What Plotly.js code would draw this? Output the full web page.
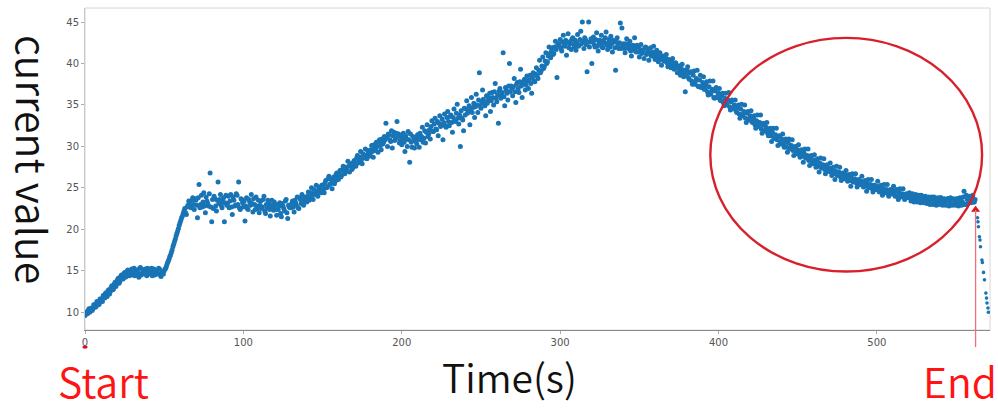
<!DOCTYPE html>
<html>
<head>
<meta charset="utf-8">
<script src="https://cdn.plot.ly/plotly-3.0.1.min.js"></script>
<style>
  html, body { margin: 0; padding: 0; background: #fff; }
  #chart { width: 998px; height: 412px; }
</style>
</head>
<body>
<div id="chart"></div>
<script>
// ---- data ----
// readings taken every 0.5 s: one list on whole seconds, one on half seconds
const SAMPLE_STEP = 1;
const wholeSecondStart = 0;
const halfSecondStart = 0.5;
const currentValue = [
  9.6, 9.9, 10.2, 10.0, 10.5, 10.4, 10.9, 10.7, 11.2, 11.0,
  11.6, 11.3, 12.0, 12.3, 11.9, 12.7, 12.5, 13.2, 12.8, 13.6,
  13.4, 14.1, 13.7, 14.5, 14.0, 14.8, 14.3, 15.1, 14.4, 14.9,
  14.5, 15.3, 14.6, 15.0, 14.2, 15.4, 14.7, 14.9, 15.2, 14.4,
  15.1, 14.6, 15.3, 14.8, 14.5, 15.0, 14.7, 15.2, 14.3, 14.9,
  15.0, 15.3, 15.9, 16.4, 16.9, 17.5, 18.2, 18.8, 19.5, 20.1,
  20.8, 21.4, 21.9, 22.5, 21.8, 22.9, 23.3, 22.6, 23.8, 22.4,
  23.5, 21.4, 25.4, 23.0, 22.7, 24.4, 22.0, 23.4, 22.8, 26.8,
  20.9, 22.5, 23.7, 22.2, 25.7, 23.6, 22.9, 23.3, 20.9, 24.1,
  23.1, 22.6, 24.2, 21.8, 23.5, 22.9, 24.1, 25.7, 22.4, 23.6,
  22.7, 21.0, 23.8, 22.4, 23.3, 24.2, 22.1, 23.0, 23.9, 22.5,
  22.0, 23.4, 22.7, 24.0, 21.9, 22.6, 23.1, 21.6, 23.5, 22.3,
  22.9, 21.7, 22.4, 23.2, 21.5, 22.8, 22.2, 23.6, 21.3, 22.7,
  22.6, 23.4, 22.1, 23.2, 23.9, 22.5, 23.6, 24.2, 22.9, 23.8,
  23.3, 24.5, 23.7, 25.0, 23.6, 24.3, 25.3, 24.0, 24.9, 24.4,
  25.3, 24.4, 25.9, 25.1, 26.4, 25.5, 24.9, 26.3, 25.8, 26.8,
  26.0, 27.1, 26.5, 27.6, 26.7, 27.3, 28.2, 26.9, 27.8, 27.4,
  28.3, 27.6, 28.9, 28.2, 29.4, 27.9, 29.0, 29.7, 28.5, 29.3,
  29.0, 30.1, 28.7, 29.8, 30.5, 29.3, 30.8, 29.6, 30.3, 31.2,
  32.8, 30.0, 31.4, 30.6, 29.8, 31.7, 30.9, 33.0, 31.5, 30.7,
  30.2, 31.6, 29.4, 30.9, 31.8, 28.1, 30.5, 31.2, 29.8, 30.6,
  31.4, 29.9, 30.8, 32.3, 31.0, 30.4, 32.6, 31.5, 30.9, 33.1,
  31.8, 33.4, 32.0, 31.3, 33.7, 32.6, 30.8, 33.9, 32.3, 34.2,
  32.5, 33.8, 31.7, 34.5, 33.0, 35.1, 32.7, 30.0, 33.4, 31.9,
  33.8, 35.5, 34.3, 32.6, 35.9, 34.7, 33.5, 36.3, 34.1, 38.9,
  34.6, 36.8, 35.3, 33.7, 35.2, 35.9, 34.2, 36.5, 35.0, 37.6,
  35.4, 32.8, 37.0, 36.2, 41.3, 34.9, 36.8, 35.6, 40.0, 37.3,
  36.1, 38.2, 35.3, 37.7, 36.5, 39.3, 35.9, 37.9, 36.8, 38.5,
  37.0, 38.6, 36.4, 38.9, 37.8, 39.5, 38.2, 40.4, 39.1, 40.8,
  39.6, 41.3, 40.2, 42.0, 40.7, 41.9, 41.2, 42.7, 38.3, 42.4,
  42.9, 41.5, 43.4, 42.1, 41.0, 43.6, 42.4, 41.7, 43.1, 42.0,
  41.6, 43.5, 42.2, 43.9, 45.0, 41.8, 42.9, 39.0, 45.0, 42.6,
  40.0, 43.2, 42.0, 43.7, 41.5, 42.8, 43.4, 41.9, 42.5, 43.8,
  41.7, 42.9, 43.3, 41.4, 42.6, 39.2, 43.1, 41.8, 44.9, 44.3,
  42.4, 41.3, 43.0, 41.8, 42.7, 40.9, 42.2, 43.1, 41.4, 42.0,
  40.8, 42.3, 41.6, 40.6, 42.0, 41.2, 40.4, 41.9, 41.0, 42.1,
  40.5, 41.6, 40.2, 41.3, 39.8, 40.9, 40.3, 41.1, 39.6, 40.4,
  39.5, 40.6, 39.3, 40.1, 38.9, 39.7, 38.6, 39.9, 38.4, 36.6,
  39.2, 38.3, 38.9, 37.9, 38.6, 37.5, 38.2, 37.3, 38.0, 37.1,
  37.7, 36.9, 37.4, 36.6, 37.2, 36.3, 36.9, 35.9, 36.7, 36.0,
  36.4, 35.6, 36.1, 35.3, 35.8, 35.0, 35.6, 34.8, 35.4, 34.6,
  35.0, 34.3, 34.7, 33.9, 34.5, 33.7, 34.2, 33.4, 34.0, 33.3,
  33.7, 33.0, 33.4, 32.6, 33.1, 32.4, 32.9, 32.1, 32.6, 31.9,
  32.3, 31.6, 31.9, 31.3, 31.7, 31.0, 31.4, 30.8, 31.2, 30.5,
  30.9, 30.2, 30.6, 29.9, 30.4, 29.7, 30.1, 29.5, 29.9, 29.3,
  29.6, 29.0, 29.4, 28.8, 29.2, 28.6, 28.9, 28.3, 28.7, 28.1,
  28.4, 27.9, 28.2, 27.6, 28.0, 27.4, 27.8, 27.2, 27.6, 27.0,
  27.4, 26.9, 27.2, 26.7, 27.0, 26.5, 26.9, 26.3, 26.7, 26.2,
  26.6, 26.1, 26.4, 25.9, 26.2, 25.7, 26.1, 25.6, 25.9, 25.4,
  25.8, 25.3, 25.7, 25.2, 25.5, 25.0, 25.4, 24.9, 25.3, 24.8,
  25.2, 24.7, 25.0, 24.5, 24.9, 24.4, 24.8, 24.3, 24.7, 24.4,
  24.7, 24.2, 24.6, 24.0, 24.4, 23.9, 24.3, 23.9, 24.2, 23.8,
  24.3, 23.8, 24.1, 23.6, 24.0, 23.5, 23.9, 23.6, 24.1, 23.5,
  23.9, 23.4, 23.8, 23.3, 23.7, 23.5, 23.9, 23.2, 23.6, 23.4,
  23.8, 23.3, 23.6, 23.1, 23.5, 23.7, 23.2, 23.6, 23.0, 23.5,
  23.2, 23.7, 23.1, 23.5, 23.3, 24.6, 23.0, 23.6, 23.9, 23.4,
  24.0, 23.3, 23.6
];
const currentValueHalf = [
  10.0, 9.8, 10.4, 10.3, 10.2, 10.9, 10.6, 11.3, 10.9, 11.6,
  11.4, 12.0, 11.7, 12.1, 12.6, 12.2, 13.0, 12.7, 13.4, 13.1,
  13.9, 13.5, 14.3, 14.1, 14.6, 14.2, 14.9, 14.6, 14.8, 15.2,
  14.8, 14.4, 15.1, 14.7, 15.3, 14.5, 15.1, 14.6, 14.8, 15.3,
  14.7, 15.0, 14.4, 15.2, 14.9, 14.6, 15.3, 14.5, 14.8, 14.6,
  15.2, 15.6, 16.1, 16.7, 17.2, 17.9, 18.5, 19.2, 19.8, 20.5,
  21.1, 21.6, 22.2, 22.0, 22.7, 23.4, 22.8, 23.5, 23.0, 23.7,
  22.9, 23.8, 22.6, 24.1, 23.3, 22.8, 23.9, 23.1, 24.3, 22.7,
  23.6, 24.0, 22.8, 23.5, 23.1, 24.2, 22.6, 23.8, 23.2, 22.9,
  24.0, 23.4, 22.7, 23.9, 22.8, 24.3, 23.0, 22.6, 23.7, 23.2,
  23.4, 22.8, 22.5, 23.6, 22.9, 23.1, 23.7, 22.4, 22.8, 23.5,
  22.9, 22.5, 23.6, 22.2, 23.0, 23.5, 22.4, 22.9, 22.6, 23.3,
  22.4, 23.0, 22.8, 21.9, 23.1, 22.5, 23.4, 22.0, 22.9, 22.6,
  23.1, 22.7, 23.5, 22.9, 22.6, 23.8, 23.1, 23.4, 23.9, 23.5,
  24.0, 23.5, 24.4, 24.1, 24.8, 24.2, 24.6, 25.1, 24.5, 25.3,
  24.8, 25.6, 25.0, 26.1, 25.4, 26.0, 25.9, 25.5, 26.6, 26.2,
  26.7, 26.3, 27.2, 26.9, 27.5, 27.0, 27.6, 27.9, 27.2, 28.1,
  27.8, 28.6, 28.0, 28.7, 28.4, 29.1, 28.6, 28.9, 29.5, 28.8,
  29.6, 29.4, 30.2, 29.5, 30.0, 30.6, 30.1, 30.9, 30.5, 30.8,
  31.1, 31.5, 30.8, 31.9, 31.3, 30.7, 31.6, 31.2, 30.4, 31.3,
  31.0, 30.5, 31.3, 30.0, 30.8, 31.5, 29.9, 30.7, 31.1, 30.3,
  30.9, 31.6, 31.2, 30.5, 31.9, 31.7, 31.2, 32.0, 32.4, 31.8,
  32.7, 32.1, 33.0, 32.8, 32.4, 33.3, 32.9, 32.5, 33.5, 33.0,
  33.6, 32.9, 33.5, 33.1, 34.0, 33.4, 33.8, 34.3, 33.2, 34.6,
  34.5, 34.0, 34.9, 34.4, 34.1, 35.2, 34.8, 35.0, 35.6, 34.9,
  35.3, 35.7, 34.9, 36.1, 35.6, 36.4, 35.5, 35.9, 36.6, 35.8,
  36.2, 36.7, 35.8, 36.5, 36.0, 37.1, 36.4, 37.3, 36.6, 37.0,
  37.2, 36.6, 37.5, 37.0, 37.8, 37.3, 37.6, 38.1, 37.4, 37.9,
  38.0, 37.6, 38.3, 37.9, 38.7, 38.5, 39.2, 38.9, 39.7, 39.4,
  40.3, 40.0, 40.9, 41.2, 41.5, 41.1, 42.0, 41.7, 42.3, 42.1,
  41.8, 42.6, 42.2, 42.8, 42.5, 41.9, 42.7, 43.0, 42.3, 42.8,
  42.5, 42.1, 42.9, 42.4, 42.7, 43.1, 42.3, 42.6, 42.0, 43.0,
  42.7, 42.3, 42.9, 42.1, 42.6, 42.4, 42.0, 42.8, 43.1, 42.2,
  42.5, 42.0, 42.4, 42.8, 41.9, 42.6, 42.2, 42.5, 41.8, 42.1,
  41.8, 42.4, 41.9, 42.3, 41.5, 42.0, 41.6, 41.9, 42.2, 41.4,
  41.7, 41.2, 41.5, 41.9, 41.1, 41.6, 41.3, 40.9, 41.4, 40.8,
  41.2, 40.7, 41.0, 40.5, 40.8, 40.3, 40.7, 40.1, 40.5, 39.9,
  40.2, 39.8, 39.9, 39.5, 39.7, 39.1, 39.4, 38.9, 39.2, 38.7,
  39.6, 38.1, 39.0, 37.5, 39.1, 37.9, 39.2, 37.2, 38.6, 37.3,
  38.4, 36.9, 37.8, 36.2, 37.9, 36.6, 37.9, 35.8, 37.1, 35.9,
  37.0, 35.5, 36.4, 34.9, 36.4, 35.3, 36.5, 34.4, 35.6, 34.6,
  35.6, 34.1, 35.0, 33.4, 35.1, 33.9, 35.0, 32.9, 34.2, 33.2,
  34.3, 32.9, 33.7, 32.2, 33.8, 32.6, 33.8, 31.6, 32.8, 31.9,
  32.9, 31.3, 32.2, 30.6, 32.2, 31.0, 32.2, 30.1, 31.3, 30.3,
  31.5, 29.9, 30.9, 29.3, 30.9, 29.8, 30.8, 28.9, 30.0, 29.1,
  30.2, 28.7, 29.6, 28.1, 29.7, 28.6, 29.7, 27.7, 28.9, 27.9,
  29.0, 27.5, 28.5, 26.9, 28.6, 27.5, 28.5, 26.7, 27.8, 27.0,
  28.0, 26.5, 27.5, 26.0, 27.6, 26.6, 27.5, 25.9, 26.8, 26.1,
  27.1, 25.8, 26.6, 25.2, 26.7, 25.8, 26.7, 25.1, 26.0, 25.4,
  26.4, 25.1, 25.9, 24.6, 26.0, 25.1, 26.0, 24.5, 25.3, 24.8,
  25.8, 24.5, 25.3, 24.1, 25.4, 24.6, 25.4, 24.0, 24.8, 24.3,
  25.2, 24.0, 24.8, 23.6, 24.9, 24.1, 24.9, 23.6, 24.3, 23.9,
  24.4, 23.4, 24.3, 23.3, 24.2, 23.3, 24.1, 23.2, 24.0, 23.2,
  24.0, 23.1, 23.9, 23.0, 23.9, 23.0, 23.8, 22.9, 23.8, 23.0,
  23.8, 22.9, 23.7, 22.9, 23.7, 22.8, 23.8, 22.9, 23.7, 22.9,
  23.7, 22.8, 23.8, 22.9, 23.9, 23.0, 24.1, 23.1, 24.0, 23.2,
  24.1, 23.3
];
// final sharp drop after the end point (sparse, irregular samples)
const dropTime  = [563.5, 563.8, 564.1, 564.7, 565.1, 565.4, 566.3, 566.6, 567.3, 567.9, 568.8, 569.2, 569.5, 570.1, 570.4];
const dropValue = [21.4, 20.9, 20.3, 19.1, 18.7, 17.9, 16.3, 16.0, 14.8, 13.9, 12.3, 11.7, 11.1, 10.5, 10.0];

// end marker
const endTime = 562.3;
const endValue = 22.35;

// highlighted region (ellipse) in data units
const ellipseTime = [394.8, 566.4];
const ellipseValue = [14.9, 43.1];

// tick labels
const xTicks = [0, 100, 200, 300, 400, 500];
const yTicks = [10, 15, 20, 25, 30, 35, 40, 45];

// text
const xTitle = 'Time(s)';
const yTitle = 'current value';
const startLabel = 'Start';
const endLabel = 'End';

// ---- build ----
const time = currentValue.map((_, i) => wholeSecondStart + i * SAMPLE_STEP);
const timeHalf = currentValueHalf.map((_, i) => halfSecondStart + i * SAMPLE_STEP);
const BLUE = '#1874b5';
const RED = '#ff1414';
const CJK = '"Noto Sans CJK JP", "Noto Sans", sans-serif';
const dot = { color: BLUE, size: 5, line: { width: 0 } };

const traces = [
  { type: 'scatter', mode: 'markers', x: time, y: currentValue, marker: dot,
    hoverinfo: 'skip', showlegend: false },
  { type: 'scatter', mode: 'markers', x: timeHalf, y: currentValueHalf, marker: dot,
    hoverinfo: 'skip', showlegend: false },
  { type: 'scatter', mode: 'markers', x: dropTime, y: dropValue,
    marker: { color: BLUE, size: 3.6, line: { width: 0 } },
    hoverinfo: 'skip', showlegend: false },
  { type: 'scatter', mode: 'markers', x: [endTime], y: [endValue],
    marker: { color: '#e01020', size: 8, symbol: 'triangle-up', line: { width: 0 } },
    hoverinfo: 'skip', showlegend: false, cliponaxis: false }
];

const layout = {
  width: 998, height: 412,
  margin: { l: 85, r: 8, t: 8, b: 82 },
  paper_bgcolor: '#fff', plot_bgcolor: '#fff',
  showlegend: false,
  xaxis: {
    range: [0, 571.4], tickvals: xTicks, ticktext: xTicks.map(String),
    showgrid: false, zeroline: false,
    showline: true, linecolor: '#8a8a8a', linewidth: 1.2,
    ticks: 'outside', ticklen: 3, tickcolor: '#aaa',
    tickfont: { family: 'DejaVu Sans, sans-serif', size: 10, color: '#555' }
  },
  yaxis: {
    range: [7.85, 46.7], tickvals: yTicks, ticktext: yTicks.map(String),
    showgrid: false, zeroline: false,
    showline: true, linecolor: '#c8c8c8', linewidth: 1,
    ticks: 'outside', ticklen: 3, tickcolor: '#aaa',
    tickfont: { family: 'DejaVu Sans, sans-serif', size: 10, color: '#555' }
  },
  shapes: [
    { type: 'rect', xref: 'paper', yref: 'paper', x0: 0, x1: 1, y0: 0, y1: 1,
      line: { color: '#d6d6d6', width: 1 }, layer: 'below' },
    { type: 'line', xref: 'x', yref: 'paper', x0: endTime, x1: endTime, y0: -0.053, y1: 0.373,
      line: { color: '#f07078', width: 1.3 } },
    { type: 'circle', xref: 'x', yref: 'y',
      x0: ellipseTime[0], x1: ellipseTime[1], y0: ellipseValue[0], y1: ellipseValue[1],
      line: { color: '#d8202c', width: 2.4 } },
    { type: 'circle', xref: 'paper', yref: 'paper', x0: -0.003, x1: 0.003, y0: -0.058, y1: -0.048,
      fillcolor: '#e01020', line: { width: 0 } }
  ],
  annotations: [
    { text: yTitle, xref: 'paper', yref: 'paper', x: -0.0564, y: 0.528,
      xanchor: 'center', yanchor: 'middle', textangle: 90, showarrow: false,
      font: { family: CJK, size: 41, weight: 350, color: '#111' } },
    { text: xTitle, xref: 'paper', yref: 'paper', x: 0.4696, y: -0.236,
      xanchor: 'center', yanchor: 'bottom', showarrow: false,
      font: { family: CJK, size: 39, weight: 350, color: '#111' } },
    { text: startLabel, xref: 'paper', yref: 'paper', x: 0.0199, y: -0.2531,
      xanchor: 'center', yanchor: 'bottom', showarrow: false, borderpad: 0,
      font: { family: CJK, size: 41, weight: 350, color: RED } },
    { text: endLabel, xref: 'paper', yref: 'paper', x: 0.967, y: -0.2531,
      xanchor: 'center', yanchor: 'bottom', showarrow: false, borderpad: 0,
      font: { family: CJK, size: 41, weight: 350, color: RED } }
  ]
};

Plotly.newPlot('chart', traces, layout, { staticPlot: true, displayModeBar: false });
</script>
</body>
</html>
